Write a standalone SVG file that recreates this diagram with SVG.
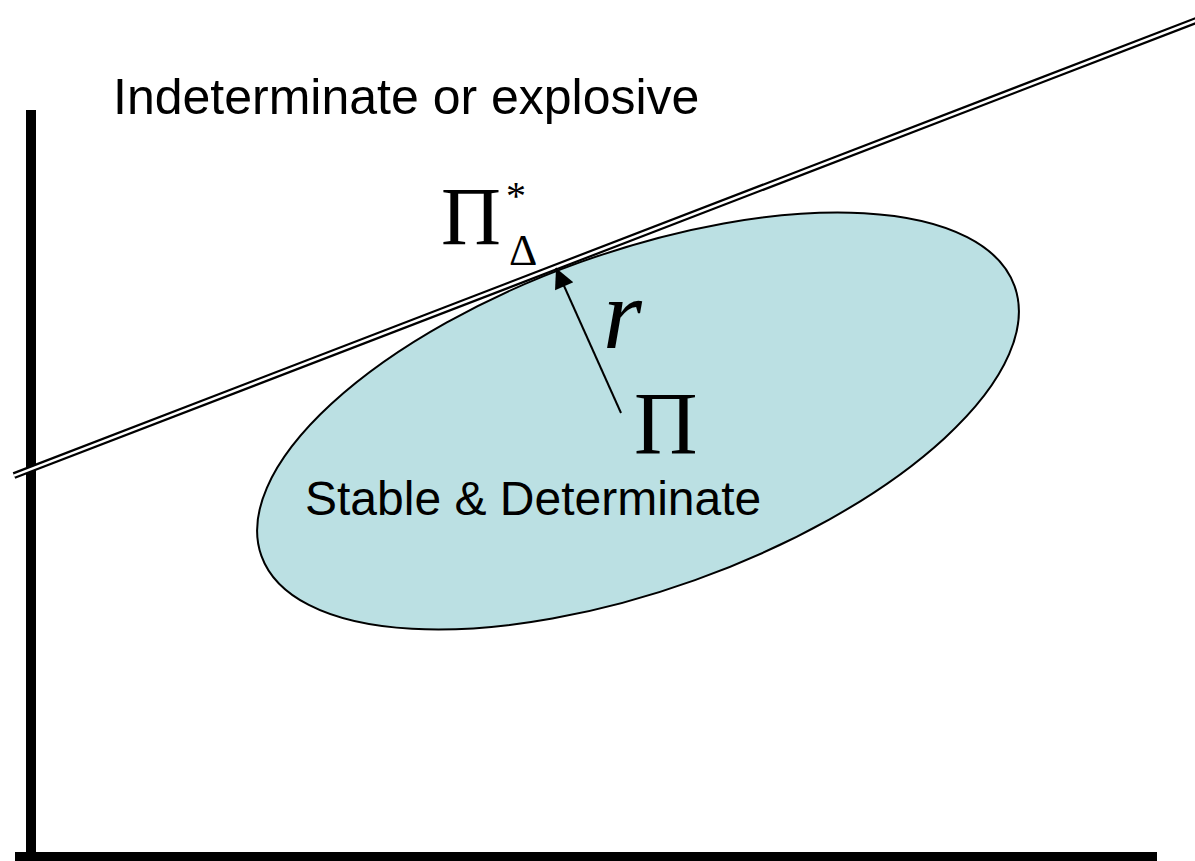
<svg xmlns="http://www.w3.org/2000/svg" width="1195" height="861" viewBox="0 0 1195 861">
  <defs>
    <style>
      .sans { font-family: "Liberation Sans", Arial, sans-serif; fill: #000; }
      .serif { font-family: "Liberation Serif", "Times New Roman", serif; fill: #000; }
      .axis { fill: #000; }
    </style>
    <marker id="arrowBig" viewBox="0 0 10 10" refX="10" refY="5" markerWidth="24" markerHeight="20" markerUnits="userSpaceOnUse" orient="auto">
      <path d="M0,0 L10,5 L0,10 Z" fill="#000"/>
    </marker>
  </defs>
  <rect width="1195" height="861" fill="#fff"/>

  <g id="region">
    <ellipse cx="638" cy="421" rx="400" ry="169" transform="rotate(-19.7 638 421)" fill="#BBE0E3" stroke="#000" stroke-width="2"/>
  </g>

  <g id="axes">
    <rect class="axis" x="26" y="110" width="10" height="751"/>
    <rect class="axis" x="15" y="852" width="1142" height="9"/>
  </g>

  <g id="connectors">
    <g id="boundary">
      <line x1="14" y1="475.6" x2="1200" y2="19" stroke="#000" stroke-width="7"/>
      <line x1="14" y1="475.6" x2="1200" y2="19" stroke="#fff" stroke-width="2.6"/>
    </g>
    <line id="radius" x1="621" y1="413" x2="556" y2="268" stroke="#000" stroke-width="2" marker-end="url(#arrowBig)"/>
  </g>

  <g id="labels">
    <text class="sans" x="113" y="114" font-size="50">Indeterminate or explosive</text>
    <text class="sans" x="305" y="515" font-size="48">Stable &amp; Determinate</text>
    <g id="pi-star">
      <text class="serif" x="441" y="244" font-size="83">Π</text>
      <text class="serif" x="506" y="209" font-size="40">*</text>
      <text class="serif" x="509" y="265" font-size="44">Δ</text>
    </g>
    <text class="serif" x="603" y="348" font-size="100" font-style="italic">r</text>
    <text class="serif" x="634" y="453" font-size="88">Π</text>
  </g>
</svg>
